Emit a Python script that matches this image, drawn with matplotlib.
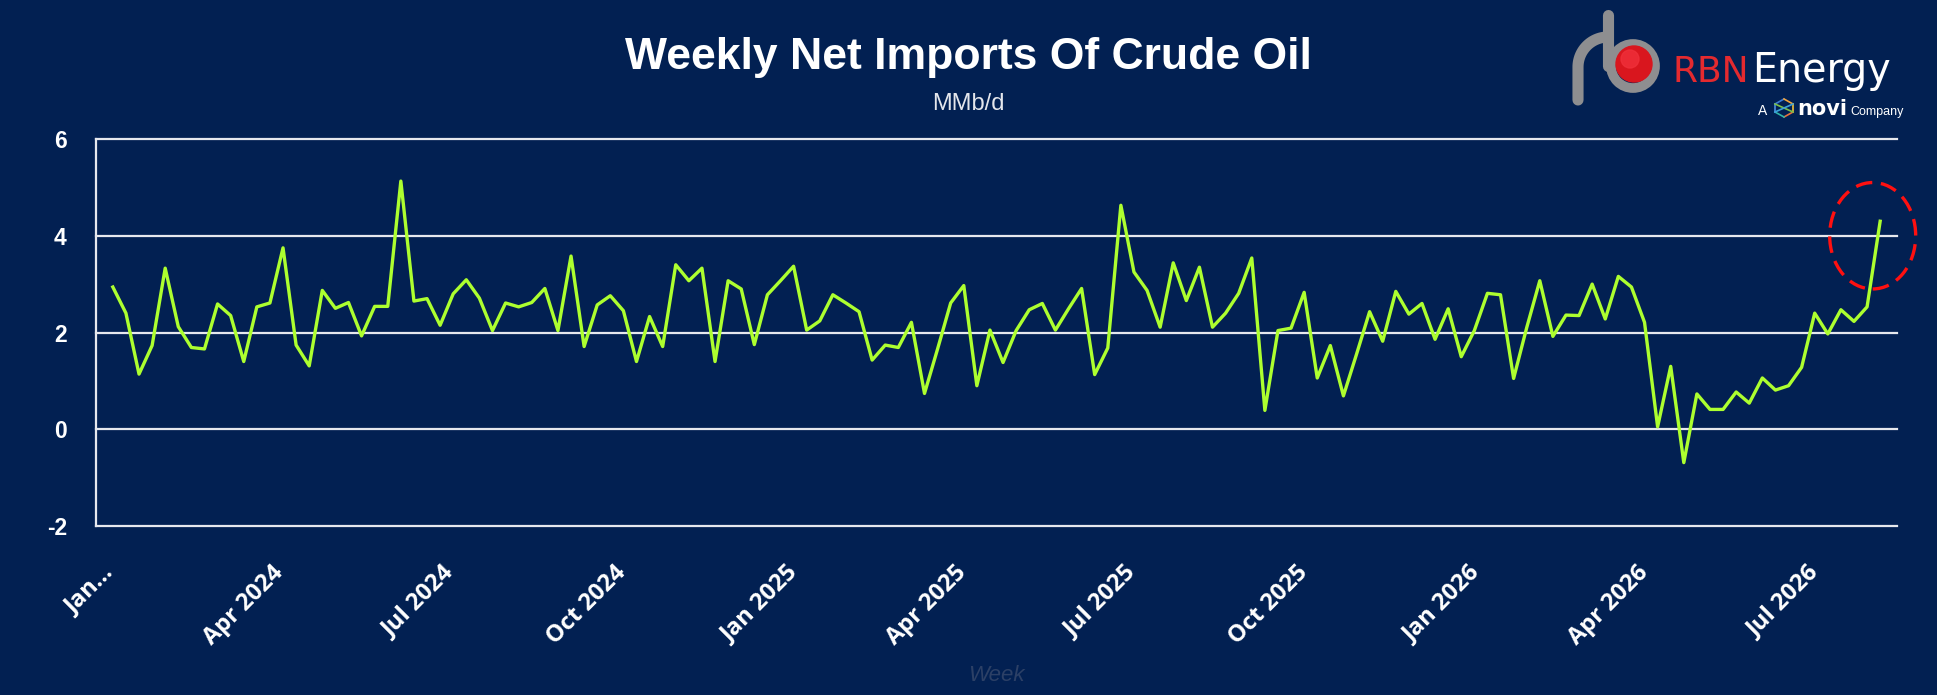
import matplotlib
matplotlib.use("Agg")
import matplotlib.pyplot as plt
import matplotlib.patches as patches
import matplotlib.transforms as mtransforms
import numpy as np
import pandas as pd

plt.rcParams["axes.unicode_minus"] = False

# weekly net imports, MMb/d
net_imports = [
    2.94, 2.40, 1.14, 1.73, 3.33, 2.12, 1.69, 1.66, 2.59, 2.35,
    1.40, 2.53, 2.61, 3.75, 1.74, 1.31, 2.87, 2.50, 2.62, 1.93,
    2.54, 2.54, 5.13, 2.65, 2.70, 2.15, 2.80, 3.09, 2.71, 2.04,
    2.61, 2.53, 2.62, 2.91, 2.04, 3.58, 1.71, 2.57, 2.76, 2.45,
    1.40, 2.33, 1.71, 3.40, 3.07, 3.33, 1.40, 3.07, 2.90, 1.75,
    2.78, 3.07, 3.37, 2.05, 2.24, 2.78, 2.61, 2.43, 1.43, 1.74,
    1.69, 2.21, 0.74, 1.66, 2.61, 2.97, 0.90, 2.05, 1.38, 2.04,
    2.47, 2.60, 2.05, 2.49, 2.91, 1.13, 1.68, 4.63, 3.25, 2.87,
    2.11, 3.44, 2.66, 3.35, 2.11, 2.40, 2.81, 3.54, 0.39, 2.04,
    2.09, 2.83, 1.06, 1.73, 0.69, 1.55, 2.43, 1.82, 2.85, 2.38,
    2.60, 1.86, 2.49, 1.50, 2.04, 2.81, 2.78, 1.05, 2.10, 3.07,
    1.92, 2.36, 2.35, 3.00, 2.28, 3.16, 2.94, 2.21, 0.05, 1.30,
    -0.69, 0.73, 0.41, 0.41, 0.77, 0.54, 1.06, 0.81, 0.90, 1.28,
    2.40, 1.97, 2.47, 2.23, 2.53, 4.30,
]
weeks = pd.date_range("2024-01-03", periods=len(net_imports), freq="7D")

tick_dates = pd.date_range("2024-01-01", "2026-07-01", freq="QS")
tick_labels = ["Jan\u2026"] + [d.strftime("%b %Y") for d in tick_dates[1:]]
y_ticks = [-2, 0, 2, 4, 6]

BG = "#022052"
LINE = "#ADFF2F"
GRID = "#e6e8ee"

W, H = 1937, 695
fig = plt.figure(figsize=(W / 100, H / 100), dpi=100, facecolor=BG)
ax = fig.add_axes([96 / W, 169 / H, 1801 / W, 387 / H])
ax.set_facecolor(BG)

ax.plot(weeks, net_imports, color=LINE, lw=2.4, zorder=3)

ax.set_ylim(-2, 6)
ax.set_yticks(y_ticks)
ax.set_xlim(weeks[0] - pd.Timedelta(days=9), weeks[-1] + pd.Timedelta(days=9))
ax.grid(axis="y", color=GRID, lw=1.6)
ax.set_axisbelow(True)
for gl in ax.get_ygridlines():
    gl.set_clip_on(False)
for s in ["top", "right", "bottom"]:
    ax.spines[s].set_visible(False)
ax.spines["left"].set_color(GRID)
ax.spines["left"].set_linewidth(1.6)

ax.tick_params(axis="y", length=0, pad=21)
for lab in ax.get_yticklabels():
    lab.set_fontfamily("Liberation Sans")
    lab.set_fontweight("bold")
    lab.set_fontsize(16.5)
    lab.set_color("white")

ax.set_xticks(tick_dates)
ax.set_xticklabels(tick_labels, rotation=45, ha="right", va="top",
                   rotation_mode="anchor", fontsize=17, fontweight="bold",
                   color="white", family="Open Sans")
ax.tick_params(axis="x", length=0, pad=25)
shift = mtransforms.ScaledTranslation(-8 / 100, 0, fig.dpi_scale_trans)
for lab in ax.get_xticklabels():
    lab.set_transform(lab.get_transform() + shift)

# dashed highlight round the last week
last_x = matplotlib.dates.date2num(weeks[-1])
ring = patches.Ellipse((last_x - 4, net_imports[-1] - 0.3), 46, 2.2,
                       fill=False, ec="#ff1010", lw=2.4,
                       linestyle=(0, (5, 2.6)), clip_on=False, zorder=4)
ax.add_patch(ring)

# titles
fig.text(0.5, 1 - 69 / H, "Weekly Net Imports Of Crude Oil", ha="center",
         va="baseline", color="white", fontsize=32, fontweight="bold",
         family="Liberation Sans")
fig.text(0.5, 1 - 110 / H, "MMb/d", ha="center", va="baseline",
         color="#e4e6ec", fontsize=17, family="Liberation Sans")
fig.text(996.5 / W, 1 - 681 / H, "Week", ha="center", va="baseline",
         color="#2c4066", fontsize=16, style="italic", family="Liberation Sans")

# logo, drawn in pixel space
lax = fig.add_axes([0, 0, 1, 1])
lax.set_xlim(0, W)
lax.set_ylim(H, 0)
lax.axis("off")
lax.patch.set_alpha(0)

pipe = "#8e8e90"
t = np.linspace(np.pi, np.pi / 2, 30)
leg_x = np.concatenate([[1578], 1608 + 30 * np.cos(t)])
leg_y = np.concatenate([[100], 67 - 30 * np.sin(t)])
lax.plot(leg_x, leg_y, color=pipe, lw=8, solid_capstyle="round")
lax.plot([1608, 1608], [15, 66], color=pipe, lw=8, solid_capstyle="round")
lax.add_patch(patches.Circle((1633, 66), 22, fill=False, ec=pipe, lw=7))
lax.add_patch(patches.Circle((1634, 64), 18, color="#d9161e"))
lax.add_patch(patches.Circle((1630, 59), 9, color="#f0303a", alpha=0.8))

lax.text(1673, 82, "RBN", color="#e42a2f", fontsize=26, family="DejaVu Sans",
         va="baseline")
lax.text(1752, 82, "Energy", color="white", fontsize=28.5, family="DejaVu Sans",
         va="baseline")
lax.text(1758, 115, "A", color="white", fontsize=10, family="Liberation Sans",
         va="baseline")
for (x0, y0, x1, y1, c) in [(1775, 104, 1784, 99, "#3b7bd4"),
                            (1784, 99, 1793, 104, "#f2a33a"),
                            (1793, 104, 1793, 112, "#f2c23a"),
                            (1793, 112, 1784, 117, "#e8733a"),
                            (1784, 117, 1775, 112, "#2fb5a8"),
                            (1775, 112, 1775, 104, "#4a8ee0"),
                            (1775, 104, 1793, 112, "#7ac04a"),
                            (1793, 104, 1775, 112, "#3aa0d8")]:
    lax.plot([x0, x1], [y0, y1], color=c, lw=1.2)
lax.text(1797, 115, "novi", color="white", fontsize=15, fontweight="bold",
         family="DejaVu Sans", va="baseline")
lax.text(1904, 115, "Company", color="white", fontsize=9,
         family="Liberation Sans", va="baseline", ha="right")

fig.savefig("out.png", dpi=100, facecolor=BG)
